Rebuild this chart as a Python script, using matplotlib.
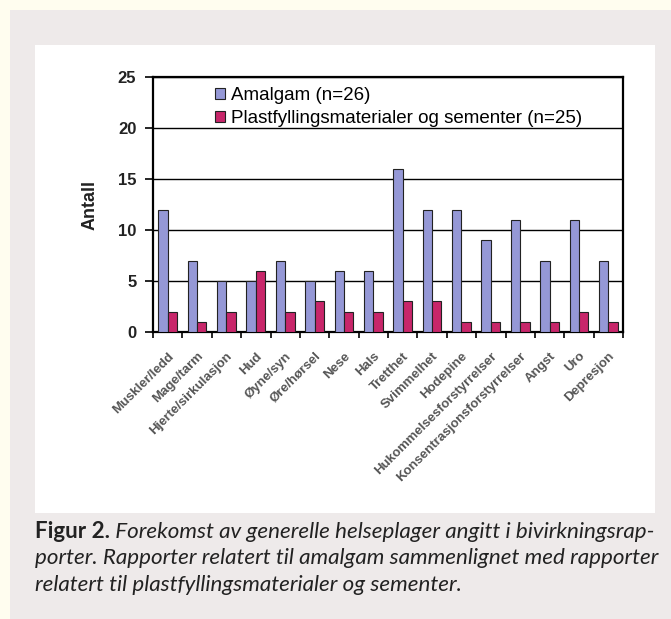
import matplotlib
matplotlib.use("Agg")
import numpy as np
import matplotlib.pyplot as plt
from matplotlib.patches import Rectangle
from matplotlib.ticker import FixedLocator

# === Data ===
categories = [
    "Muskler/ledd", "Mage/tarm", "Hjerte/sirkulasjon", "Hud", "Øyne/syn",
    "Øre/hørsel", "Nese", "Hals", "Tretthet", "Svimmelhet", "Hodepine",
    "Hukommelsesforstyrrelser", "Konsentrasjonsforstyrrelser", "Angst",
    "Uro", "Depresjon",
]
amalgam = [12, 7, 5, 5, 7, 5, 6, 6, 16, 12, 12, 9, 11, 7, 11, 7]
plast = [2, 1, 2, 6, 2, 3, 2, 2, 3, 3, 1, 1, 1, 1, 2, 1]
series_labels = ["Amalgam (n=26)", "Plastfyllingsmaterialer og sementer (n=25)"]
y_ticks = [0, 5, 10, 15, 20, 25]

caption_bold = "Figur 2."
caption_lines = [
    " Forekomst av generelle helseplager angitt i bivirkningsrap-",
    "porter. Rapporter relatert til amalgam sammenlignet med rapporter",
    "relatert til plastfyllingsmaterialer og sementer.",
]

# === Colours ===
cream = "#fffdef"
panel = "#eeeaea"
blue = "#9598d6"
pink = "#c8266a"

W, H = 671, 619
fig = plt.figure(figsize=(W / 100, H / 100), dpi=100)
fig.patch.set_facecolor(cream)

def px(x0, y0, x1, y1):
    # pixel box (top-left origin) -> figure fraction rect
    return [x0 / W, 1 - y1 / H, (x1 - x0) / W, (y1 - y0) / H]

# gray panel and white chart area
bg = fig.add_axes([0, 0, 1, 1], zorder=-10)
bg.set_xlim(0, W)
bg.set_ylim(H, 0)
bg.axis("off")
bg.add_patch(Rectangle((10, 10), W - 10, H - 10, facecolor=panel, edgecolor="none"))
bg.add_patch(Rectangle((35, 45), 620, 468, facecolor="white", edgecolor="none"))

# === Bar chart ===
ax = fig.add_axes(px(153, 77, 623, 332))
x = np.arange(len(categories))
w = 0.32
ax.bar(x - w / 2, amalgam, w, color=blue, edgecolor="#222222", linewidth=0.8,
       label=series_labels[0], zorder=3)
ax.bar(x + w / 2, plast, w, color=pink, edgecolor="#222222", linewidth=0.8,
       label=series_labels[1], zorder=3)

ax.set_xlim(-0.5, len(categories) - 0.5)
ax.set_ylim(0, 25)
ax.set_yticks(y_ticks)
ax.yaxis.grid(True, color="black", linewidth=1.0, zorder=1)
ax.set_axisbelow(True)
for s in ax.spines.values():
    s.set_linewidth(1.6)
    s.set_color("black")

ax.set_xticks(x)
ax.set_xticklabels(categories, rotation=45, ha="right", rotation_mode="anchor",
                   fontsize=9.5, fontweight="bold", color="#555555",
                   family="Liberation Sans")
ax.tick_params(axis="x", which="major", length=0, pad=13)
ax.xaxis.set_minor_locator(FixedLocator(np.arange(len(categories) + 1) - 0.5))
ax.tick_params(axis="x", which="minor", length=4, width=1.2, color="black")
ax.tick_params(axis="y", length=6, width=1.2, pad=6)
for t in ax.get_yticklabels():
    t.set_fontsize(12)
    t.set_fontweight("bold")
    t.set_family("Liberation Sans")
    t.set_color("#222222")

ax.set_ylabel("Antall", fontsize=13, fontweight="bold", family="Liberation Sans",
              color="#222222", labelpad=14)

leg = ax.legend(loc="upper left", bbox_to_anchor=(0.11, 1.0), frameon=False,
                prop={"family": "Liberation Sans", "size": 13.5},
                handlelength=0.55, handleheight=0.55, handletextpad=0.3,
                labelspacing=0.3, borderaxespad=0.15)

# === Caption ===
cap_font = ["Lato", "DejaVu Sans"]
cap_size = 16.1
t0 = fig.text(35 / W, 1 - 531 / H, caption_bold, fontsize=cap_size, fontweight="bold",
              family=cap_font, color="#222222", va="center")
ax.annotate(caption_lines[0], xy=(1, 0), xycoords=t0, va="bottom",
            fontsize=cap_size, style="italic", family=cap_font, color="#222222",
            annotation_clip=False)
for i, line in enumerate(caption_lines[1:]):
    fig.text(35 / W, 1 - (558 + 27 * i) / H, line, fontsize=cap_size, style="italic",
             family=cap_font, color="#222222", va="center")

fig.savefig("out.png", dpi=100, facecolor=cream)
